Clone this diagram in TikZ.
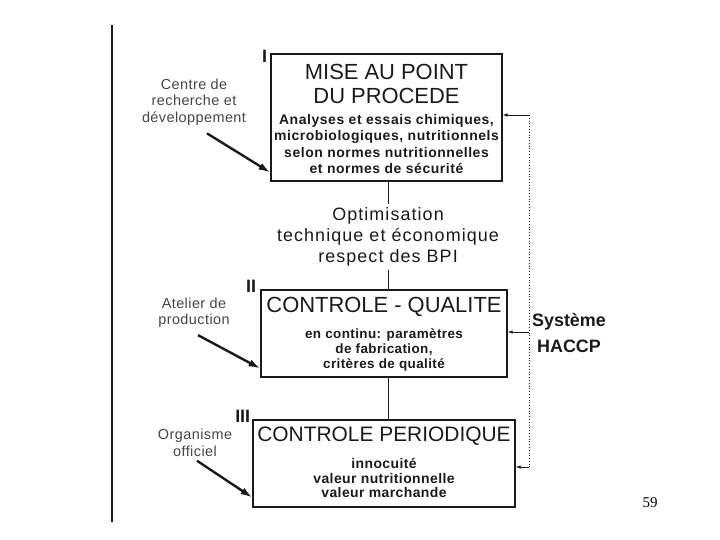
\documentclass[tikz,border=0pt]{standalone}
\usepackage{fontspec}
\setmainfont{Liberation Sans}
\newfontfamily\spacedfont[LetterSpace=4]{Liberation Sans}
\newfontfamily\tightfont[LetterSpace=3]{Liberation Sans}
\newfontfamily\labelfont[LetterSpace=3]{Liberation Sans}
\newfontfamily\midfont[LetterSpace=6]{Liberation Sans}
\newfontfamily\pagefont{Liberation Serif}
\usetikzlibrary{arrows.meta,positioning,calc}
\definecolor{ScanInk}{HTML}{1A1A1A}
\definecolor{ScanGray}{HTML}{454545}

\begin{document}
\begin{tikzpicture}[
  x=1bp, y=-1bp,
  box/.style={draw=ScanInk, line width=1.2pt, inner sep=0pt},
  heading/.style={font=\fontsize{22}{23.5}\selectfont, text=ScanInk, align=center, inner sep=0pt},
  detail/.style={font=\spacedfont\bfseries\fontsize{14}{16.7}\selectfont, text=ScanInk, align=center, inner sep=0pt},
  source/.style={font=\labelfont\fontsize{14.5}{16.5}\selectfont, text=ScanGray, align=center, inner sep=0pt},
  numeral/.style={font=\bfseries\fontsize{18}{18}\selectfont, text=ScanInk, inner sep=0pt, anchor=base east},
  stem/.style={draw=ScanInk, line width=1pt},
  feed/.style={-{Latex[length=4.2mm, width=2.6mm]}, draw=ScanInk, line width=2.4pt},
  haccpfeed/.style={-{Latex[length=1.8mm, width=1.2mm]}, draw=ScanInk, line width=0.6pt}
]
  \useasboundingbox (0,0) rectangle (720,540);
  % page margin rule
  \draw[ScanInk, line width=1.4pt] (112,25) -- (112,522);

  % I
  \node[box, minimum width=231bp, minimum height=127bp] (mise) at (386.5,117.5) {};
  \node[heading] (miseTitle) at (386.5,84) {MISE AU POINT\\DU PROCEDE};
  \node[detail] (miseText) at (386.5,144) {Analyses et essais chimiques,\\microbiologiques, nutritionnels\\selon normes nutritionnelles\\et normes de sécurité};
  \node[numeral] (numI) at ([xshift=-3bp, yshift=-9bp]mise.north west) {I};

  \node[font=\midfont\fontsize{18}{21}\selectfont, text=ScanInk, align=center, inner sep=4bp] (optim) at (388,237) {Optimisation\\technique et économique\\respect des BPI};

  % II
  \node[box, minimum width=246bp, minimum height=87bp] (qual) at (384,333.5) {};
  \node[heading] (qualTitle) at (384,307) {CONTROLE - QUALITE};
  \node[detail, font=\tightfont\bfseries\fontsize{13.5}{15}\selectfont] (qualText) at (384,350) {en continu: paramètres\\de fabrication,\\critères de qualité};
  \node[numeral] (numII) at ([xshift=-4bp, yshift=-3bp]qual.north west) {II};

  % III
  \node[box, minimum width=262bp, minimum height=87bp] (perio) at (384,463.5) {};
  \node[heading, font=\fontsize{21}{23}\selectfont] (perioTitle) at (384,436) {CONTROLE PERIODIQUE};
  \node[detail, font=\tightfont\bfseries\fontsize{14}{15}\selectfont] (perioText) at (384,478) {innocuité\\valeur nutritionnelle\\valeur marchande};
  \node[numeral] (numIII) at ([xshift=-2bp, yshift=-3bp]perio.north west) {III};

  \draw[stem] (mise.south -| optim.north) -- (optim.north);
  \draw[stem] (optim.south) -- (qual.north -| optim.south);
  \draw[stem] (qual.south -| optim.south) -- (perio.north -| optim.south);

  % who does what
  \node[source] (centre) at (194,102) {Centre de\\recherche et\\développement};
  \node[source] (atelier) at (194,313) {Atelier de\\production};
  \node[source] (organisme) at (195,443) {Organisme\\officiel};

  \draw[feed] ([xshift=13bp, yshift=-8bp]centre.south) -- ([yshift=9bp]mise.south west);
  \draw[feed] ([xshift=4bp, yshift=-7bp]atelier.south) -- ([yshift=9bp]qual.south west);
  \draw[feed] ([xshift=2bp, yshift=-4bp]organisme.south) -- ([yshift=10bp]perio.south west);

  % HACCP loop
  \coordinate (haccpTop) at (529,115);
  \coordinate (haccpMid) at (529,332);
  \coordinate (haccpBot) at (529,467);
  \draw[dotted, ScanInk, line width=0.8pt] (haccpTop) -- (haccpBot);
  \draw[haccpfeed] (haccpTop) -- (haccpTop -| mise.east);
  \draw[haccpfeed] (haccpMid) -- (haccpMid -| qual.east);
  \draw[haccpfeed] (haccpBot) -- (haccpBot -| perio.east);
  \node[font=\bfseries\fontsize{18}{26}\selectfont, text=ScanInk, align=center, inner sep=0pt] (haccp) at (569,333) {Système\\HACCP};

  \node[font=\pagefont\fontsize{15}{15}\selectfont, inner sep=0pt] (page) at (650,503) {59};
\end{tikzpicture}
\end{document}
